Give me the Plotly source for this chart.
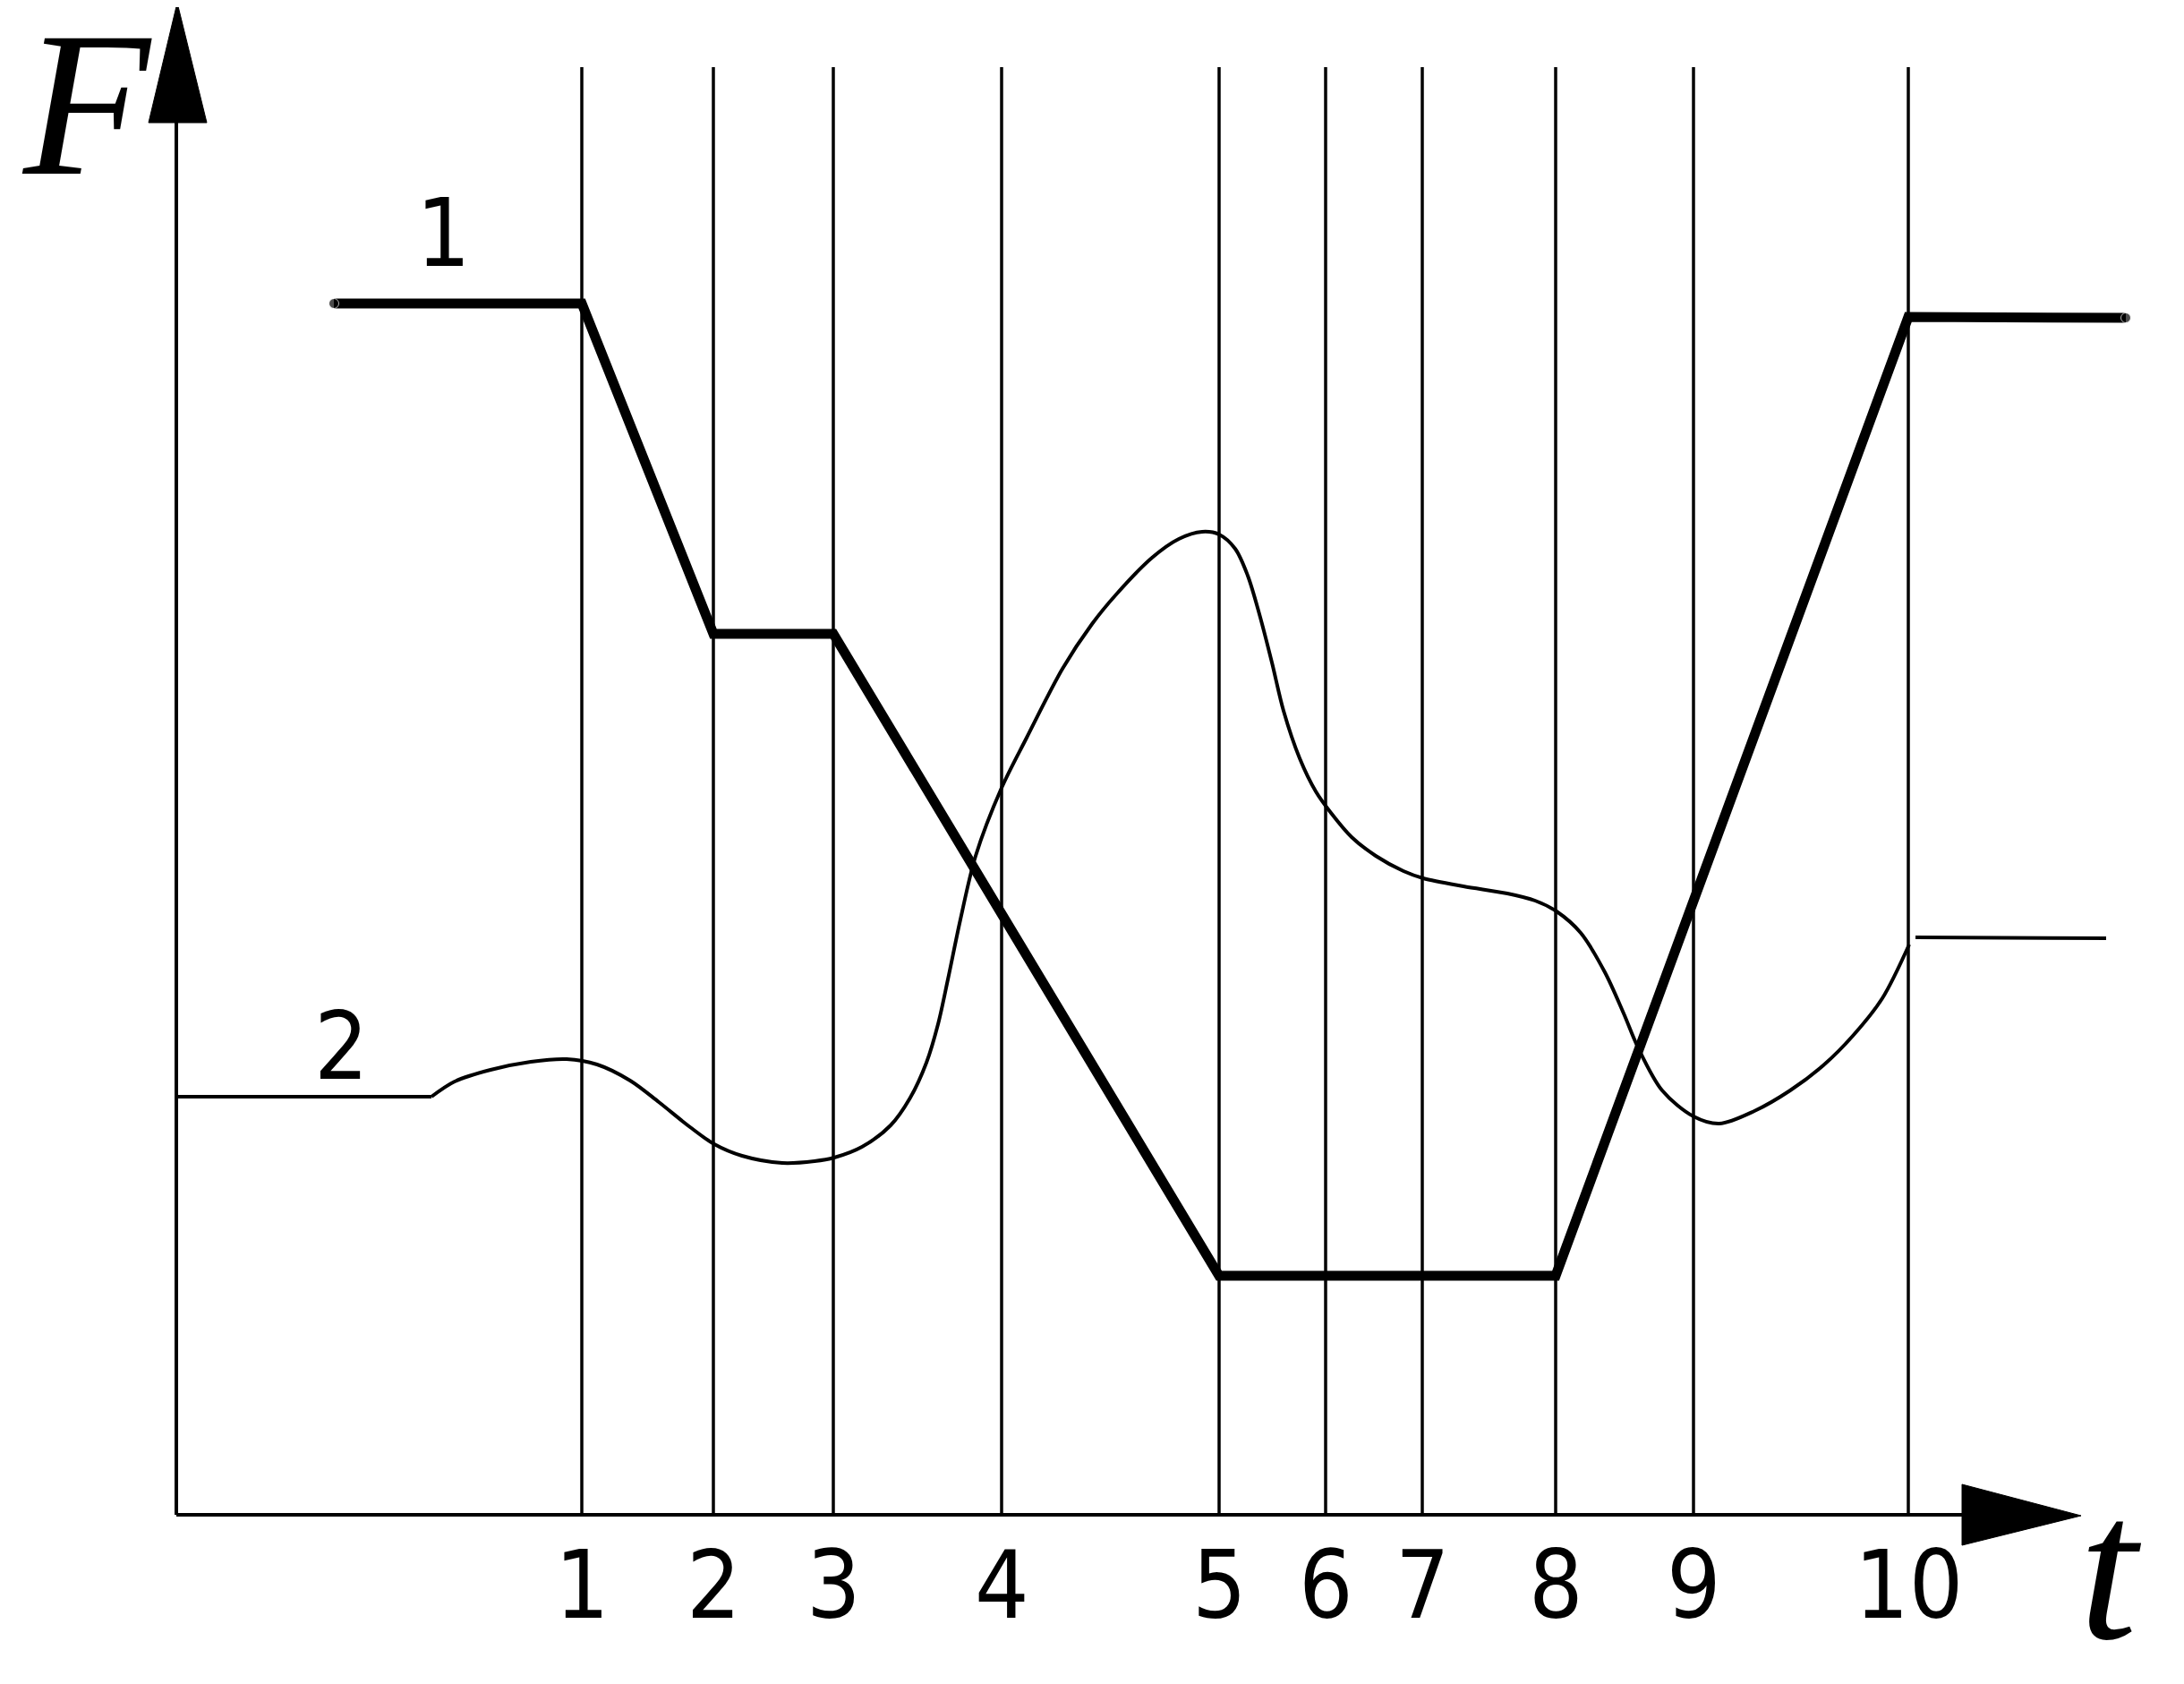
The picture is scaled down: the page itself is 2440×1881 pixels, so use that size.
import plotly.graph_objects as go

# ---- data (t in time units, F in force units; origin at axes crossing) ----
event_t = [453, 600, 734, 922, 1165, 1284, 1392, 1541, 1695, 1935]
tick_labels = ["1", "2", "3", "4", "5", "6", "7", "8", "9", "10"]
event_top = 1617

curve1_t = [176, 453, 600, 734, 1165, 1541, 1935, 2178]
curve1_F = [1353, 1353, 984, 984, 267, 267, 1338, 1337]

curve2_flat_t = [0, 285]
curve2_flat_F = [467, 467]
curve2_t = [285, 311, 351, 396, 436, 470, 507, 539, 574, 601, 632, 677, 713, 735,
            766, 798, 820, 838, 851, 862, 876, 893, 922, 950, 990, 1023, 1050,
            1090, 1120, 1146, 1165, 1183, 1197, 1210, 1224, 1237, 1255, 1273, 1290,
            1313, 1340, 1371, 1393, 1438, 1487, 1518, 1542, 1569, 1596, 1617, 1633,
            1660, 1695, 1724, 1763, 1803, 1840, 1873, 1906, 1936]
curve2_F = [467, 484, 497, 506, 509, 503, 485, 461, 433, 414, 401, 393, 395, 399,
            411, 435, 466, 505, 548, 598, 665, 736, 812, 868, 945, 995, 1028,
            1069, 1090, 1098, 1095, 1079, 1049, 1006, 952, 898, 845, 808, 784,
            757, 736, 719, 711, 702, 694, 686, 674, 650, 606, 560, 522,
            474, 445, 437, 451, 474, 502, 535, 577, 637]
curve2_tail_t = [1943, 2156]
curve2_tail_F = [645, 644]

curve_labels = ["1", "2"]
curve_label_t = [298, 184]
curve_label_F = [1432, 524]

fig = go.Figure()

# vertical event lines
vx, vy = [], []
for t in event_t:
    vx += [t, t, None]
    vy += [0, event_top, None]
fig.add_trace(go.Scatter(x=vx, y=vy, mode="lines",
                         line=dict(color="black", width=3.5), hoverinfo="skip"))

# curve 2 (thin)
fig.add_trace(go.Scatter(x=curve2_flat_t, y=curve2_flat_F, mode="lines",
                         line=dict(color="black", width=4), hoverinfo="skip"))
fig.add_trace(go.Scatter(x=curve2_t, y=curve2_F, mode="lines",
                         line=dict(color="black", width=4, shape="spline", smoothing=0.9),
                         hoverinfo="skip"))
fig.add_trace(go.Scatter(x=curve2_tail_t, y=curve2_tail_F, mode="lines",
                         line=dict(color="black", width=4), hoverinfo="skip"))

# curve 1 (thick)
fig.add_trace(go.Scatter(x=curve1_t, y=curve1_F, mode="lines+markers",
                         line=dict(color="black", width=11),
                         marker=dict(color="black",
                                     size=[11] + [0] * (len(curve1_t) - 2) + [11]),
                         hoverinfo="skip"))

shapes = [
    # axes
    dict(type="line", x0=0, y0=0, x1=0, y1=1560, line=dict(color="black", width=4)),
    dict(type="line", x0=0, y0=0, x1=2000, y1=0, line=dict(color="black", width=4)),
    # arrow heads
    dict(type="path", path="M -31,1555 L 34,1555 L 1,1689 Z",
         fillcolor="black", line=dict(color="black", width=1)),
    dict(type="path", path="M 1995,34 L 1995,-34 L 2128,-1 Z",
         fillcolor="black", line=dict(color="black", width=1)),
]

label_font = dict(family="DejaVu Sans Condensed", size=106, color="black")
annotations = []
for t, lab in zip(event_t, tick_labels):
    annotations.append(dict(x=t, y=-78, text=lab, showarrow=False,
                            xanchor="center", yanchor="middle", font=label_font))
for t, F, lab in zip(curve_label_t, curve_label_F, curve_labels):
    annotations.append(dict(x=t, y=F, text=lab, showarrow=False,
                            xanchor="center", yanchor="middle", font=label_font))
annotations.append(dict(x=-100, y=1577, text="<i>F</i>", showarrow=False,
                        xanchor="center", yanchor="middle",
                        font=dict(family="Liberation Serif", size=232, color="black")))
annotations.append(dict(x=2161, y=-59, text="<i>t</i>", showarrow=False,
                        xanchor="center", yanchor="middle",
                        font=dict(family="Liberation Serif", size=232, color="black")))

fig.update_layout(
    width=2440, height=1881, autosize=False,
    margin=dict(l=0, r=0, t=0, b=0, pad=0),
    paper_bgcolor="white", plot_bgcolor="white",
    showlegend=False,
    xaxis=dict(range=[-189, 2251], visible=False, fixedrange=True),
    yaxis=dict(range=[-197, 1684], visible=False, fixedrange=True),
    shapes=shapes, annotations=annotations,
)

fig.write_html("out.html", config={"displayModeBar": False})
